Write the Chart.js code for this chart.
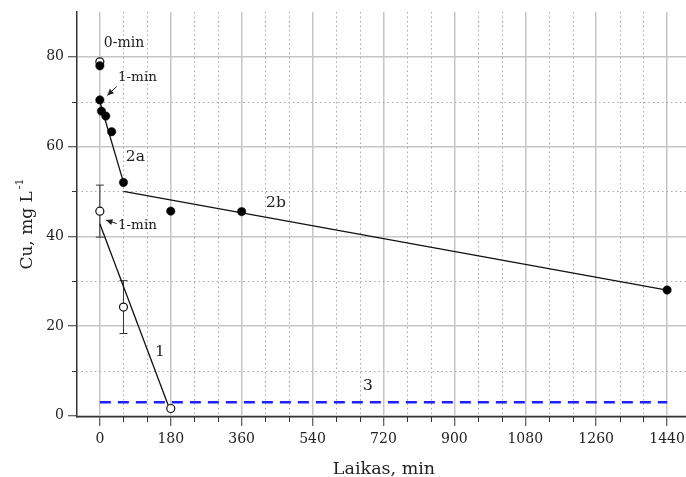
<!DOCTYPE html>
<html>
<head>
<meta charset="utf-8">
<script src="https://cdn.jsdelivr.net/npm/chart.js@4/dist/chart.umd.min.js"></script>
<style>
  html, body { margin: 0; padding: 0; background: #fff; }
  #wrap { width: 686px; height: 477px; }
</style>
</head>
<body>
<div id="wrap"><canvas id="mycanvas" width="686" height="477"></canvas></div>
<script>
// series 1 (open circles, with spread)
var time1 = [0, 0, 60, 180];
var cu1 = [78.9, 45.6, 24.2, 1.6];
var err1 = [0, 5.8, 5.9, 0];

// series 2 (filled circles)
var time2 = [0, 0, 4, 15, 30, 60, 180, 360, 1440];
var cu2 = [78.0, 70.4, 67.9, 66.8, 63.3, 52.0, 45.6, 45.5, 28.0];

// fitted lines and the limit line
var fit1X = [0, 180], fit1Y = [42.8, 0.8];
var fit2aX = [0, 60], fit2aY = [70.0, 52.0];
var fit2bX = [60, 1440], fit2bY = [50.0, 28.0];
var limitX = [0, 1440], limitY = [3, 3];

// axis ticks
var xTicks = [0, 180, 360, 540, 720, 900, 1080, 1260, 1440];
var yTicks = [0, 20, 40, 60, 80];
var xMinor = [60, 120, 240, 300, 420, 480, 600, 660, 780, 840, 960, 1020, 1140, 1200, 1320, 1380];
var yMinor = [10, 30, 50, 70];

function pts(xs, ys) {
	var out = [];
	for (var i in xs) {
		out.push({x: xs[i], y: ys[i]});
	}
	return out;
}

var labels = [
	{text: '0-min', x: 10, y: 83.1, size: 14},
	{text: '1-min', x: 46, y: 75.3, size: 13.5},
	{text: '2a', x: 66, y: 57.7, size: 15.5},
	{text: '2b', x: 422, y: 47.4, size: 15.5},
	{text: '1-min', x: 46, y: 42.3, size: 13.5},
	{text: '1', x: 140, y: 14.3, size: 15.5},
	{text: '3', x: 668, y: 6.7, size: 15.5}
];
var arrows = [
	{x1: 43, y1: 73.4, x2: 19, y2: 71.4},
	{x1: 43, y1: 42.8, x2: 16, y2: 43.6}
];

var serif = '"DejaVu Serif", serif';

var extras = {
	id: 'extras',
	beforeDatasetsDraw: function(chart) {
		var ctx = chart.ctx, a = chart.chartArea;
		var xs = chart.scales.x, ys = chart.scales.y;
		ctx.save();
		// dotted minor grid
		ctx.strokeStyle = '#a8a8a8';
		ctx.lineWidth = 1;
		ctx.setLineDash([1.5, 3]);
		ctx.beginPath();
		xMinor.forEach(function(v) {
			var p = Math.round(xs.getPixelForValue(v)) + 0.5;
			ctx.moveTo(p, a.top); ctx.lineTo(p, a.bottom);
		});
		yMinor.forEach(function(v) {
			var p = Math.round(ys.getPixelForValue(v)) + 0.5;
			ctx.moveTo(a.left, p); ctx.lineTo(a.right, p);
		});
		ctx.stroke();
		ctx.setLineDash([]);
		// spread bars for series 1
		ctx.strokeStyle = '#333';
		ctx.lineWidth = 1;
		ctx.beginPath();
		for (var i in time1) {
			if (!err1[i]) continue;
			var px = xs.getPixelForValue(time1[i]);
			var top = ys.getPixelForValue(cu1[i] + err1[i]);
			var bot = ys.getPixelForValue(cu1[i] - err1[i]);
			ctx.moveTo(px, top); ctx.lineTo(px, bot);
			ctx.moveTo(px - 4, top); ctx.lineTo(px + 4, top);
			ctx.moveTo(px - 4, bot); ctx.lineTo(px + 4, bot);
		}
		ctx.stroke();
		ctx.restore();
	},
	afterDatasetsDraw: function(chart) {
		var ctx = chart.ctx;
		var xs = chart.scales.x, ys = chart.scales.y;
		ctx.save();
		ctx.fillStyle = '#222';
		ctx.textBaseline = 'middle';
		ctx.textAlign = 'left';
		labels.forEach(function(l) {
			ctx.font = l.size + 'px ' + serif;
			ctx.fillText(l.text, xs.getPixelForValue(l.x), ys.getPixelForValue(l.y));
		});
		ctx.strokeStyle = '#222';
		ctx.lineWidth = 1;
		arrows.forEach(function(ar) {
			var x1 = xs.getPixelForValue(ar.x1), y1 = ys.getPixelForValue(ar.y1);
			var x2 = xs.getPixelForValue(ar.x2), y2 = ys.getPixelForValue(ar.y2);
			var ang = Math.atan2(y2 - y1, x2 - x1);
			ctx.beginPath();
			ctx.moveTo(x1, y1); ctx.lineTo(x2, y2);
			ctx.stroke();
			ctx.beginPath();
			ctx.moveTo(x2, y2);
			ctx.lineTo(x2 - 7 * Math.cos(ang - 0.45), y2 - 7 * Math.sin(ang - 0.45));
			ctx.lineTo(x2 - 7 * Math.cos(ang + 0.45), y2 - 7 * Math.sin(ang + 0.45));
			ctx.closePath();
			ctx.fill();
		});
		ctx.restore();
	},
	afterDraw: function(chart) {
		var ctx = chart.ctx, a = chart.chartArea;
		var xs = chart.scales.x, ys = chart.scales.y;
		ctx.save();
		// minor tick marks
		ctx.strokeStyle = '#333';
		ctx.lineWidth = 1;
		ctx.beginPath();
		xMinor.forEach(function(v) {
			var p = Math.round(xs.getPixelForValue(v)) + 0.5;
			ctx.moveTo(p, a.bottom); ctx.lineTo(p, a.bottom + 5);
		});
		yMinor.forEach(function(v) {
			var p = Math.round(ys.getPixelForValue(v)) + 0.5;
			ctx.moveTo(a.left, p); ctx.lineTo(a.left - 5, p);
		});
		ctx.stroke();
		// axis titles
		ctx.fillStyle = '#222';
		ctx.font = '17.5px ' + serif;
		ctx.textAlign = 'center';
		ctx.textBaseline = 'alphabetic';
		ctx.fillText('Laikas, min', 384, 474);
		ctx.translate(32, 224);
		ctx.rotate(-Math.PI / 2);
		var main = 'Cu, mg L';
		ctx.font = '17px ' + serif;
		var w1 = ctx.measureText(main).width;
		ctx.font = '11px ' + serif;
		var w2 = ctx.measureText('-1').width;
		var start = -(w1 + w2 + 2) / 2;
		ctx.textAlign = 'left';
		ctx.font = '17px ' + serif;
		ctx.fillText(main, start, 0);
		ctx.font = '11px ' + serif;
		ctx.fillText('-1', start + w1 + 2, -9);
		ctx.restore();
	}
};

var chartdata = {
	datasets: [
		{
			label: '3',
			data: pts(limitX, limitY),
			showLine: true,
			borderColor: '#1f1fff',
			borderWidth: 2.5,
			borderDash: [11, 7],
			pointRadius: 0,
			order: 5
		},
		{
			label: '1',
			data: pts(fit1X, fit1Y),
			showLine: true,
			borderColor: '#111',
			borderWidth: 1.3,
			pointRadius: 0,
			order: 4
		},
		{
			label: '2a',
			data: pts(fit2aX, fit2aY),
			showLine: true,
			borderColor: '#111',
			borderWidth: 1.3,
			pointRadius: 0,
			order: 4
		},
		{
			label: '2b',
			data: pts(fit2bX, fit2bY),
			showLine: true,
			borderColor: '#111',
			borderWidth: 1.3,
			pointRadius: 0,
			order: 4
		},
		{
			label: 'series 1',
			data: pts(time1, cu1),
			showLine: false,
			pointRadius: 4,
			pointBackgroundColor: '#fff',
			pointBorderColor: '#111',
			pointBorderWidth: 1.2,
			order: 2
		},
		{
			label: 'series 2',
			data: pts(time2, cu2),
			showLine: false,
			pointRadius: 4.2,
			pointBackgroundColor: '#000',
			pointBorderColor: '#000',
			pointBorderWidth: 0.5,
			order: 1
		}
	]
};

var ctx = document.getElementById('mycanvas');

var chart = new Chart(ctx, {
	type: 'scatter',
	data: chartdata,
	options: {
		responsive: false,
		animation: false,
		layout: { autoPadding: false, padding: { top: 12, right: 0, left: 0, bottom: 0 } },
		plugins: {
			legend: { display: false },
			tooltip: { enabled: false }
		},
		scales: {
			x: {
				type: 'linear',
				min: -58,
				max: 1488,
				afterBuildTicks: function(scale) {
					scale.ticks = xTicks.map(function(v) { return {value: v}; });
				},
				afterFit: function(scale) {
					scale.height = 60;
					scale.paddingLeft = 0;
					scale.paddingRight = 0;
				},
				grid: {
					color: '#c6c6c6',
					lineWidth: 1.5,
					tickColor: '#333',
					tickLength: 9,
					tickWidth: 1
				},
				border: { color: '#333', width: 1.5 },
				ticks: {
					color: '#222',
					font: { family: serif, size: 14 },
					padding: 5,
					maxRotation: 0,
					autoSkip: false,
					callback: function(v) { return String(v); }
				}
			},
			y: {
				type: 'linear',
				min: -0.3,
				max: 90,
				afterBuildTicks: function(scale) {
					scale.ticks = yTicks.map(function(v) { return {value: v}; });
				},
				afterFit: function(scale) {
					scale.width = 77;
					scale.paddingTop = 0;
					scale.paddingBottom = 0;
				},
				grid: {
					color: '#c6c6c6',
					lineWidth: 1.5,
					tickColor: '#333',
					tickLength: 9,
					tickWidth: 1
				},
				border: { color: '#333', width: 1.5 },
				ticks: {
					color: '#222',
					font: { family: serif, size: 14 },
					padding: 4,
					autoSkip: false,
					callback: function(v) { return String(v); }
				}
			}
		}
	},
	plugins: [extras]
});
</script>
</body>
</html>
